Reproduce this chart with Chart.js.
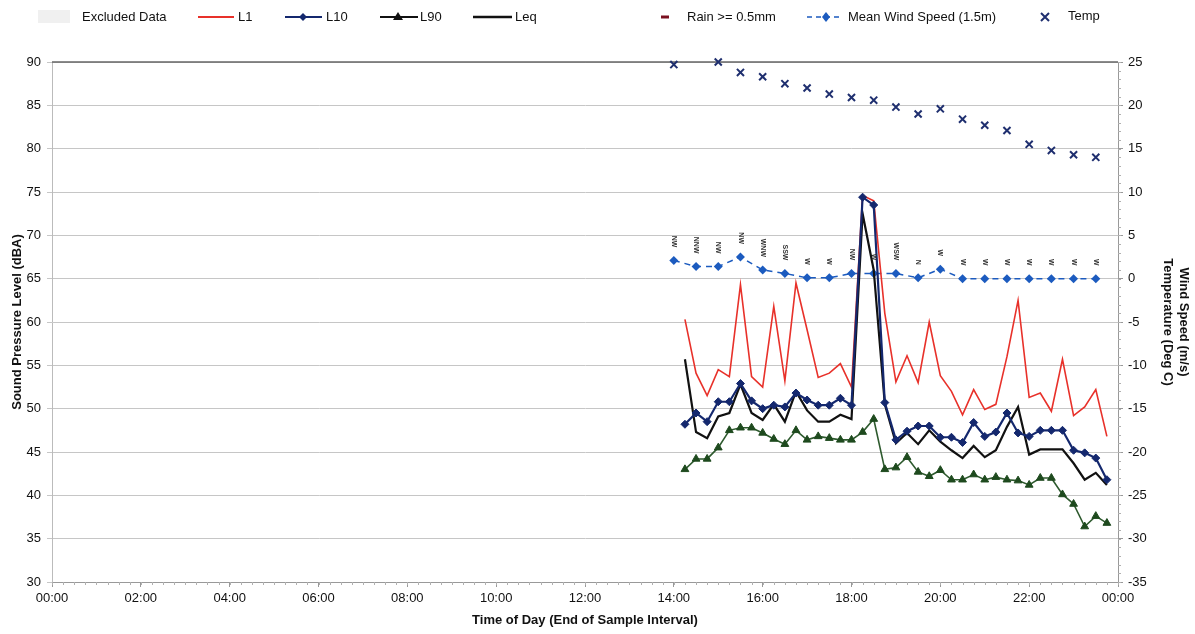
<!DOCTYPE html>
<html>
<head>
<meta charset="utf-8">
<script src="https://cdn.jsdelivr.net/npm/chart.js@4.4.1/dist/chart.umd.min.js"></script>
<style>
html,body{margin:0;padding:0;background:#fff;}
#wrap{width:1195px;height:634px;position:relative;}
</style>
</head>
<body>
<div id="wrap"><canvas id="c" width="1195" height="634"></canvas></div>
<script>
// ---- Data ----
const soundTimes = ['14:15','14:30','14:45','15:00','15:15','15:30','15:45','16:00','16:15','16:30','16:45','17:00','17:15','17:30','17:45','18:00','18:15','18:30','18:45','19:00','19:15','19:30','19:45','20:00','20:15','20:30','20:45','21:00','21:15','21:30','21:45','22:00','22:15','22:30','22:45','23:00','23:15','23:30','23:45'];
const L1  = [60.3,54.1,51.5,54.5,53.7,64.3,53.7,52.5,61.8,53.2,64.5,59.1,53.6,54.1,55.2,52.5,74.6,74.0,61.0,53.1,56.1,53.0,60.0,53.8,52.0,49.3,52.2,49.9,50.5,56.0,62.5,51.3,51.8,49.7,55.7,49.2,50.2,52.2,46.8];
const L10 = [48.2,49.5,48.5,50.8,50.8,52.9,50.9,50.0,50.4,50.2,51.8,51.0,50.4,50.4,51.2,50.4,74.4,73.5,50.7,46.4,47.4,48.0,48.0,46.7,46.7,46.1,48.4,46.8,47.3,49.5,47.2,46.8,47.5,47.5,47.5,45.2,44.9,44.3,41.8];
const L90 = [43.0,44.2,44.2,45.5,47.5,47.8,47.8,47.2,46.5,45.9,47.5,46.4,46.8,46.6,46.4,46.4,47.3,48.8,43.0,43.2,44.4,42.7,42.2,42.9,41.8,41.8,42.4,41.8,42.1,41.8,41.7,41.2,42.0,42.0,40.1,39.0,36.4,37.6,36.8];
const Leq = [55.7,47.3,46.6,49.1,49.5,52.8,49.5,48.7,50.5,48.5,52.0,49.8,48.5,48.5,49.3,48.8,72.5,66.0,50.5,46.0,47.2,45.9,47.5,46.2,45.2,44.3,45.7,44.4,45.2,47.9,50.2,44.7,45.3,45.3,45.3,43.7,41.8,42.6,41.2];

const windTimes = ['14:00','14:30','15:00','15:30','16:00','16:30','17:00','17:30','18:00','18:30','19:00','19:30','20:00','20:30','21:00','21:30','22:00','22:30','23:00','23:30'];
const windSpeed = [2.1,1.4,1.4,2.5,1.0,0.6,0.1,0.1,0.6,0.6,0.6,0.1,1.1,0.0,0.0,0.0,0.0,0.0,0.0,0.0];
const windDir   = ['NW','NNW','NW','NW','WNW','SSW','W','W','NW','W','WSW','N','W','W','W','W','W','W','W','W'];

const tempTimes = ['14:00','15:00','15:30','16:00','16:30','17:00','17:30','18:00','18:30','19:00','19:30','20:00','20:30','21:00','21:30','22:00','22:30','23:00','23:30'];
const temp      = [24.7,25.0,23.8,23.3,22.5,22.0,21.3,20.9,20.6,19.8,19.0,19.6,18.4,17.7,17.1,15.5,14.8,14.3,14.0];

const excludedData = [];
const rainData = [];

const xTickHours = [0,2,4,6,8,10,12,14,16,18,20,22,24];

// ---- helpers ----
function hrs(t){ const p=t.split(':'); return (+p[0]) + (+p[1])/60; }
function pts(times, vals){ return times.map((t,i)=>({x:hrs(t), y:vals[i]})); }

const FONT = "'Liberation Sans', Arial, sans-serif";
const C_L1='#E8312A', C_L10='#14286E', C_L90='#2E5A2E', C_L90M='#1E4A1E', C_LEQ='#111111', C_WIND='#1C5BBF', C_TEMP='#1F2F6F';

// Legend plugin (drawn at top)
const legendPlugin = {
  id:'customLegend',
  afterDraw(chart){
    const ctx=chart.ctx; const y=17;
    ctx.save();
    ctx.font = "13px "+FONT; ctx.fillStyle='#111'; ctx.textBaseline='middle'; ctx.textAlign='left';
    ctx.fillStyle='#f0f0f0'; ctx.fillRect(38,10,32,13);
    ctx.fillStyle='#111'; ctx.fillText('Excluded Data',82,y);
    ctx.strokeStyle=C_L1; ctx.lineWidth=2; ctx.beginPath(); ctx.moveTo(198,y); ctx.lineTo(234,y); ctx.stroke();
    ctx.fillText('L1',238,y);
    ctx.strokeStyle=C_L10; ctx.beginPath(); ctx.moveTo(285,y); ctx.lineTo(322,y); ctx.stroke();
    ctx.fillStyle=C_L10; ctx.beginPath(); ctx.moveTo(303,y-4); ctx.lineTo(307,y); ctx.lineTo(303,y+4); ctx.lineTo(299,y); ctx.closePath(); ctx.fill();
    ctx.fillStyle='#111'; ctx.fillText('L10',326,y);
    ctx.strokeStyle='#111'; ctx.beginPath(); ctx.moveTo(380,y); ctx.lineTo(418,y); ctx.stroke();
    ctx.fillStyle='#111'; ctx.beginPath(); ctx.moveTo(398,y-5); ctx.lineTo(403,y+3); ctx.lineTo(393,y+3); ctx.closePath(); ctx.fill();
    ctx.fillText('L90',420,y);
    ctx.strokeStyle='#111'; ctx.lineWidth=2.5; ctx.beginPath(); ctx.moveTo(473,y); ctx.lineTo(512,y); ctx.stroke();
    ctx.fillText('Leq',515,y);
    ctx.strokeStyle='#7A1020'; ctx.lineWidth=3; ctx.beginPath(); ctx.moveTo(661,y); ctx.lineTo(669,y); ctx.stroke();
    ctx.fillText('Rain >= 0.5mm',687,y);
    ctx.strokeStyle=C_WIND; ctx.lineWidth=1.5; ctx.setLineDash([5,4]);
    ctx.beginPath(); ctx.moveTo(807,y); ctx.lineTo(843,y); ctx.stroke(); ctx.setLineDash([]);
    ctx.fillStyle=C_WIND; ctx.beginPath(); ctx.moveTo(826,y-5); ctx.lineTo(830,y); ctx.lineTo(826,y+5); ctx.lineTo(822,y); ctx.closePath(); ctx.fill();
    ctx.fillStyle='#111'; ctx.fillText('Mean Wind Speed (1.5m)',848,y);
    ctx.strokeStyle=C_TEMP; ctx.lineWidth=2;
    ctx.beginPath(); ctx.moveTo(1041,y-4); ctx.lineTo(1049,y+4); ctx.moveTo(1049,y-4); ctx.lineTo(1041,y+4); ctx.stroke();
    ctx.fillText('Temp',1068,y-1);
    ctx.restore();
  }
};

// Wind direction labels + minor ticks
const extrasPlugin = {
  id:'extras',
  beforeDatasetsDraw(chart){
    const ctx=chart.ctx, a=chart.chartArea;
    ctx.save();
    ctx.strokeStyle='#666'; ctx.lineWidth=1.5;
    ctx.beginPath(); ctx.moveTo(a.left,a.top); ctx.lineTo(a.right,a.top); ctx.stroke();
    const xs=chart.scales.x, y2=chart.scales.y2;
    ctx.strokeStyle='#b0b0b0'; ctx.lineWidth=1;
    ctx.beginPath();
    for(let h=0; h<=24; h+=0.25){ const px=Math.round(xs.getPixelForValue(h))+0.5; ctx.moveTo(px,a.bottom); ctx.lineTo(px,a.bottom+3); }
    for(let v=-35; v<=25; v+=1){ const py=Math.round(y2.getPixelForValue(v))+0.5; ctx.moveTo(a.right,py); ctx.lineTo(a.right+3,py); }
    ctx.stroke();
    ctx.restore();
  },
  afterDatasetsDraw(chart){
    const ctx=chart.ctx;
    const meta=chart.getDatasetMeta(chart.data.datasets.findIndex(d=>d.label==='Mean Wind Speed (1.5m)'));
    ctx.save();
    ctx.font="bold 7px "+FONT; ctx.fillStyle='#333'; ctx.textAlign='right'; ctx.textBaseline='middle';
    meta.data.forEach((el,i)=>{
      ctx.save(); ctx.translate(el.x, el.y-13); ctx.rotate(Math.PI/2);
      ctx.fillText(windDir[i],0,0); ctx.restore();
    });
    ctx.restore();
  }
};

const chart = new Chart(document.getElementById('c'), {
  type:'line',
  data:{
    datasets:[
      {label:'Excluded Data', data:excludedData, showLine:false, pointRadius:0, yAxisID:'y'},
      {label:'L10', data:pts(soundTimes,L10), borderColor:C_L10, backgroundColor:C_L10, borderWidth:2.2, pointStyle:'rectRot', pointRadius:4, pointBorderWidth:1, tension:0, yAxisID:'y', order:1, clip:false},
      {label:'Leq', data:pts(soundTimes,Leq), borderColor:C_LEQ, borderWidth:2.2, pointRadius:0, tension:0, yAxisID:'y', order:2},
      {label:'L90', data:pts(soundTimes,L90), borderColor:C_L90, backgroundColor:C_L90M, pointBorderColor:C_L90M, borderWidth:1.6, pointStyle:'triangle', pointRadius:4.5, pointBorderWidth:1, tension:0, yAxisID:'y', order:3},
      {label:'L1', data:pts(soundTimes,L1), borderColor:C_L1, borderWidth:1.6, pointRadius:0, tension:0, yAxisID:'y', order:4},
      {label:'Rain >= 0.5mm', data:rainData, showLine:false, pointRadius:0, yAxisID:'y2'},
      {label:'Mean Wind Speed (1.5m)', data:pts(windTimes,windSpeed), borderColor:C_WIND, backgroundColor:C_WIND, borderWidth:1.5, borderDash:[6,5], pointStyle:'rectRot', pointRadius:4.5, pointBorderWidth:0, tension:0, yAxisID:'y2', order:5},
      {label:'Temp', data:pts(tempTimes,temp), showLine:false, borderColor:C_TEMP, backgroundColor:C_TEMP, pointStyle:'crossRot', pointRadius:5, pointBorderWidth:2, yAxisID:'y2', order:6, clip:false}
    ]
  },
  options:{
    responsive:false, maintainAspectRatio:false, animation:false, devicePixelRatio:1,
    layout:{padding:{top:62,left:0,right:0,bottom:0}},
    plugins:{legend:{display:false}, tooltip:{enabled:false}},
    elements:{point:{hoverRadius:0}},
    scales:{
      x:{type:'linear', min:0, max:24,
        afterBuildTicks(s){ s.ticks = xTickHours.map(v=>({value:v})); },
        afterFit(s){ s.height=52; },
        ticks:{autoSkip:false, maxRotation:0, color:'#111', font:{family:FONT,size:13}, padding:4,
          callback:(v)=>String(v%24).padStart(2,'0')+':00'},
        grid:{drawOnChartArea:false, drawTicks:true, tickLength:5, color:'#999'},
        border:{color:'#999', width:1},
        title:{display:true, text:'Time of Day (End of Sample Interval)', color:'#111', font:{family:FONT,size:13,weight:'bold'}, padding:{top:2,bottom:6}}
      },
      y:{position:'left', min:30, max:90,
        afterFit(s){ s.width=52; },
        ticks:{stepSize:5, color:'#111', font:{family:FONT,size:13}, padding:6},
        grid:{color:'#c6c6c6', lineWidth:1, tickLength:5, drawTicks:true},
        border:{color:'#bbb', width:1},
        title:{display:true, text:'Sound Pressure Level (dBA)', color:'#111', font:{family:FONT,size:13,weight:'bold'}, padding:{top:10,bottom:0}}
      },
      y2:{position:'right', min:-35, max:25,
        afterFit(s){ s.width=77; },
        ticks:{stepSize:5, color:'#111', font:{family:FONT,size:13}, padding:5},
        grid:{drawOnChartArea:false, tickLength:5, drawTicks:true, color:'#999'},
        border:{color:'#999', width:1},
        title:{display:true, text:['Wind Speed (m/s)','Temperature (Deg C)'], color:'#111', font:{family:FONT,size:13,weight:'bold'}, padding:{top:4,bottom:0}}
      }
    }
  },
  plugins:[legendPlugin, extrasPlugin]
});
</script>
</body>
</html>
